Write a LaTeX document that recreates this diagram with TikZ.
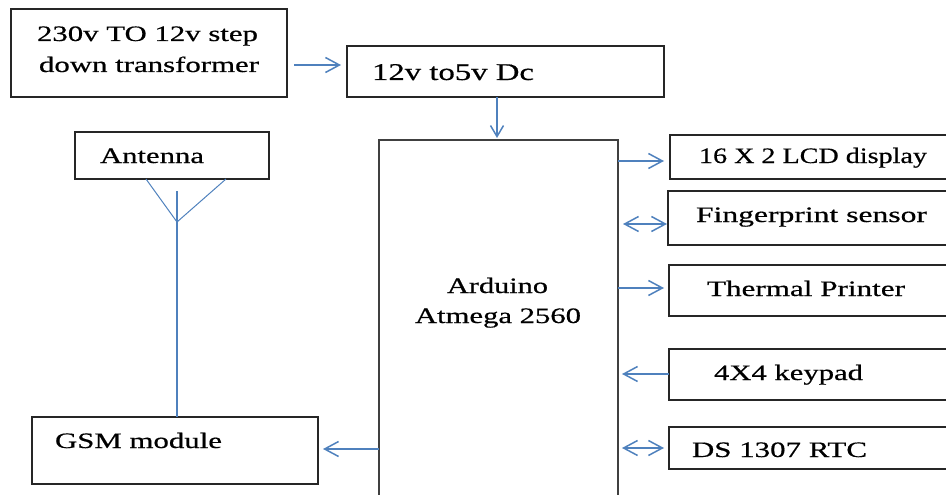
\documentclass[tikz,border=0pt]{standalone}
\usepackage{fontspec}
\setmainfont[FakeBold=0.5]{Liberation Serif}
\usetikzlibrary{arrows.meta}
\definecolor{lblue}{HTML}{4F81BD}
\definecolor{boxline}{HTML}{262626}
\newcommand{\wt}[2]{\resizebox{#1pt}{\height}{#2}}
\begin{document}
\begin{tikzpicture}[x=1pt,y=-1pt,
  box/.style={draw=boxline, line width=1.3pt, inner sep=0pt, outer sep=0pt, anchor=north west},
  txt/.style={inner sep=0pt, outer sep=0pt, anchor=base west, font=\fontsize{22pt}{26pt}\selectfont, text=black},
  conn/.style={draw=lblue, line width=1.5pt},
  harr/.style={conn, -{Straight Barb[length=14pt,width=15pt]}},
  hdbl/.style={conn, {Straight Barb[length=14pt,width=15pt]}-{Straight Barb[length=14pt,width=15pt]}},
  varr/.style={conn, -{Straight Barb[length=11pt,width=13pt]}},
  antline/.style={draw=lblue, line width=1pt}]
\useasboundingbox (0,0) rectangle (946,495);
\clip (0,0) rectangle (946,495);
% boxes
\node[box, minimum width=276pt, minimum height=88pt] (trans) at (11,9) {};
\node[box, minimum width=317pt, minimum height=51pt] (dc) at (347,46) {};
\node[box, minimum width=194pt, minimum height=47pt] (ant) at (75,132) {};
\node[box, draw=black!75, line width=1.6pt, minimum width=239pt, minimum height=370pt] (ard) at (379,140) {};
\node[box, minimum width=290pt, minimum height=44pt] (lcd) at (670,135) {};
\node[box, minimum width=292pt, minimum height=54pt] (fp) at (668,191) {};
\node[box, minimum width=291pt, minimum height=51pt] (tp) at (669,265) {};
\node[box, minimum width=291pt, minimum height=51pt] (kp) at (669,349) {};
\node[box, minimum width=291pt, minimum height=42pt] (rtc) at (669,427) {};
\node[box, minimum width=286pt, minimum height=67pt] (gsm) at (32,417) {};
% texts
\node[txt] (t1) at (37,41) {\wt{221}{230v TO 12v step}};
\node[txt] (t2) at (39,72) {\wt{220}{down transformer}};
\node[txt, font=\fontsize{24pt}{28pt}\selectfont] (t3) at (372,80) {\wt{162}{12v to5v Dc}};
\node[txt] (t4) at (100,163) {\wt{104}{Antenna}};
\node[txt] (t5) at (447,293) {\wt{101}{Arduino}};
\node[txt] (t6) at (415,323) {\wt{166}{Atmega 2560}};
\node[txt] (t7) at (699,163) {\wt{228}{16 X 2 LCD display}};
\node[txt] (t8) at (696,222) {\wt{231}{Fingerprint sensor}};
\node[txt] (t9) at (707,296) {\wt{198}{Thermal Printer}};
\node[txt] (t10) at (714,380) {\wt{149}{4X4 keypad}};
\node[txt] (t11) at (692,457) {\wt{175}{DS 1307 RTC}};
\node[txt] (t12) at (55,448) {\wt{167}{GSM module}};
% connectors
\draw[harr] ([shift={(7,56)}]trans.north east) -- ([shift={(-6,19)}]dc.north west);
\draw[varr] ([shift={(150,0)}]dc.south west) -- ([shift={(118,-2)}]ard.north west);
\draw[harr] ([shift={(0,21)}]ard.north east) -- ([shift={(-6,26)}]lcd.north west);
\draw[hdbl] ([shift={(5,84)}]ard.north east) -- ([shift={(-1,33)}]fp.north west);
\draw[harr] ([shift={(0,148)}]ard.north east) -- ([shift={(-5,23)}]tp.north west);
\draw[harr] ([shift={(0,25)}]kp.north west) -- ([shift={(4,234)}]ard.north east);
\draw[hdbl] ([shift={(4,308)}]ard.north east) -- ([shift={(-5,21)}]rtc.north west);
\draw[harr] ([shift={(0,309)}]ard.north west) -- ([shift={(5,32)}]gsm.north east);
% antenna symbol
\coordinate (apex) at (177,222);
\coordinate (mast) at (177,191);
\draw[antline] ([xshift=71pt]ant.south west) -- (apex) -- ([xshift=-43pt]ant.south east);
\draw[conn, line width=1.2pt] (mast) -- ([xshift=145pt]gsm.north west);
\end{tikzpicture}
\end{document}
